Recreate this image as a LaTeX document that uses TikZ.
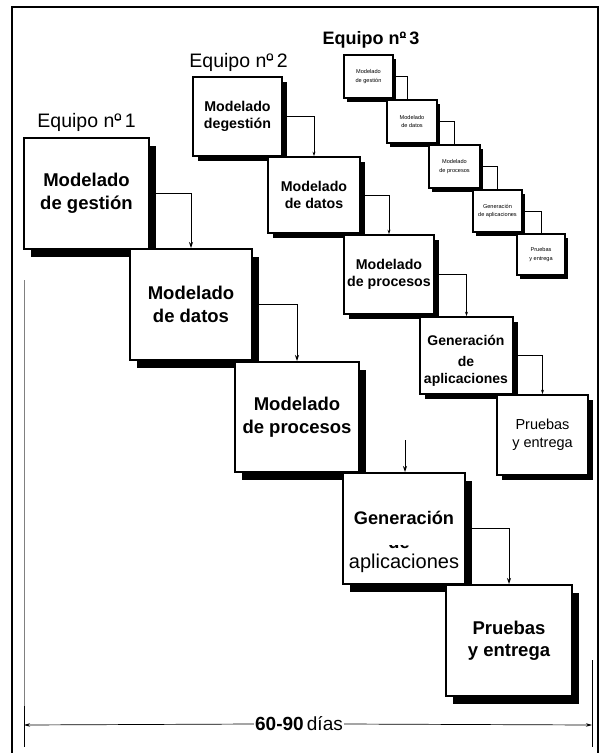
\documentclass[tikz,border=0pt]{standalone}
\usepackage{fontspec}
\setmainfont{Liberation Sans}
\usetikzlibrary{arrows.meta,shadows}

% ordinal sign with the bar beneath it
\newcommand{\ordo}{\makebox[0.365em][l]{º}\hspace{-0.345em}\rule[0.34em]{0.325em}{0.055em}\hspace{0.02em}}

\tikzset{
  box/.style={draw, fill=white, inner sep=0pt, align=center},
  bigbox/.style={box, line width=2pt,
    general shadow={fill=black, shadow xshift=7pt, shadow yshift=-8pt},
    font=\fontsize{18.5}{22.5}\selectfont\bfseries},
  midbox/.style={box, line width=1.8pt,
    general shadow={fill=black, shadow xshift=5pt, shadow yshift=-5pt},
    font=\fontsize{14.2}{17}\selectfont\bfseries},
  smallbox/.style={box, line width=1.4pt,
    general shadow={fill=black, shadow xshift=3pt, shadow yshift=-3.5pt},
    font=\fontsize{5.6}{8.5}\selectfont},
  size/.style 2 args={minimum width=#1pt, minimum height=#2pt},
  team/.style={anchor=base, inner sep=0pt, font=\fontsize{19.5}{22}\selectfont},
  flow/.style={line width=0.8pt, -{Stealth[length=6pt,width=4pt]}},
  flowmid/.style={line width=0.7pt, -{Stealth[length=4.5pt,width=3pt]}},
  flowsmall/.style={line width=0.6pt},
  dimarrow/.style={line width=0.7pt, -{Stealth[length=6pt,width=3.5pt]}},
}

\begin{document}
\begin{tikzpicture}[x=1pt,y=-1pt]
\useasboundingbox (0,0) rectangle (604,753);

% outer frame
\draw[line width=1.6pt] (12,7) rectangle (598,768);

% ---- team 1 ----
\node[team] (t1) at (86.5,127) {Equipo n\ordo\,1};
\node[bigbox, size={125}{111}] (g1) at (86.5,193.5) {Modelado\\de gestión};
\node[bigbox, size={122}{111}] (d1) at (191,304.5) {Modelado\\de datos};
\node[bigbox, size={124}{110}] (p1) at (297,417) {Modelado\\de procesos};
\node[bigbox, size={122}{111}] (a1) at (404,528.5) {};
\node[inner sep=0pt, font=\fontsize{18.2}{22}\selectfont\bfseries] (a1gen) at (404,518) {Generación};
\begin{scope}
  \clip (385,545.8) rectangle (415,551);
  \node[anchor=base, inner sep=0pt, font=\fontsize{18.2}{22}\selectfont\bfseries] (a1de) at (399,548.5) {de};
\end{scope}
\node[inner sep=0pt, font=\fontsize{20}{24}\selectfont] (a1apl) at (404,563) {aplicaciones};
\node[bigbox, size={126}{111}] (e1) at (509,640.5) {Pruebas\\y entrega};

\coordinate (a1in) at (405,440);
\draw[flow] (g1.east) -| (d1.north);
\draw[flow] (d1.east) -| (p1.north);
\draw[flow] (a1in) -- (a1in |- a1.north);
\draw[flow] (a1.east) -| (e1.north);

% ---- team 2 ----
\node[team] (t2) at (238.5,67) {Equipo n\ordo\,2};
\node[midbox, size={89}{79}] (g2) at (237.5,116.5) {Modelado\\degestión};
\node[midbox, size={92}{76}] (d2) at (314,195) {Modelado\\de datos};
\node[midbox, size={90}{79}] (p2) at (389,274.5) {Modelado\\de procesos};
\node[midbox, size={93}{77}] (a2) at (466.5,355.5) {};
\node[inner sep=0pt, align=center, font=\fontsize{14}{17}\selectfont\bfseries] (a2txt) at (466,361) {Generación\\[4pt]de\\aplicaciones};
\node[midbox, size={91}{80}, font=\fontsize{14.5}{18}\selectfont] (e2) at (542.5,435) {Pruebas\\y entrega};

\draw[flowmid] (g2.east) -| (d2.north);
\draw[flowmid] (d2.east) -| (p2.north);
\draw[flowmid] (p2.east) -| (a2.north);
\draw[flowmid] (a2.east) -| (e2.north);

% ---- team 3 ----
\node[team, font=\fontsize{18}{22}\selectfont\bfseries] (t3) at (371,44) {Equipo n\ordo\,3};
\node[smallbox, size={49}{43}] (g3) at (368.5,76.5) {Modelado\\de gestión};
\node[smallbox, size={50}{43}] (d3) at (412,121.5) {Modelado\\de datos};
\node[smallbox, size={51}{43}] (p3) at (454.5,166.5) {Modelado\\de procesos};
\node[smallbox, size={49}{42}] (a3) at (497.5,211) {Generación\\de aplicaciones};
\node[smallbox, size={48}{41}] (e3) at (541,254.5) {Pruebas\\y entrega};

\draw[flowsmall] (g3.east) -| ([xshift=-5pt]d3.north);
\draw[flowsmall] (d3.east) -| (p3.north);
\draw[flowsmall] (p3.east) -| (a3.north);
\draw[flowsmall] (a3.east) -| (e3.north);

% ---- time span ----
\coordinate (dimL) at (24,725);
\coordinate (dimR) at (592,725);
\draw[gray, line width=0.6pt] (24,280) -- (24,706);
\draw[line width=1pt] (24,706) -- (24,747);
\draw[line width=0.8pt] (592,660) -- (592,747);
\node[fill=white, inner sep=1pt, font=\fontsize{19}{22}\selectfont] (dim) at (299,724) {\textbf{60-90}\,días};
\draw[dimarrow] (dim.west) -- (dimL);
\draw[dimarrow] (dim.east) -- (dimR);
\end{tikzpicture}
\end{document}
